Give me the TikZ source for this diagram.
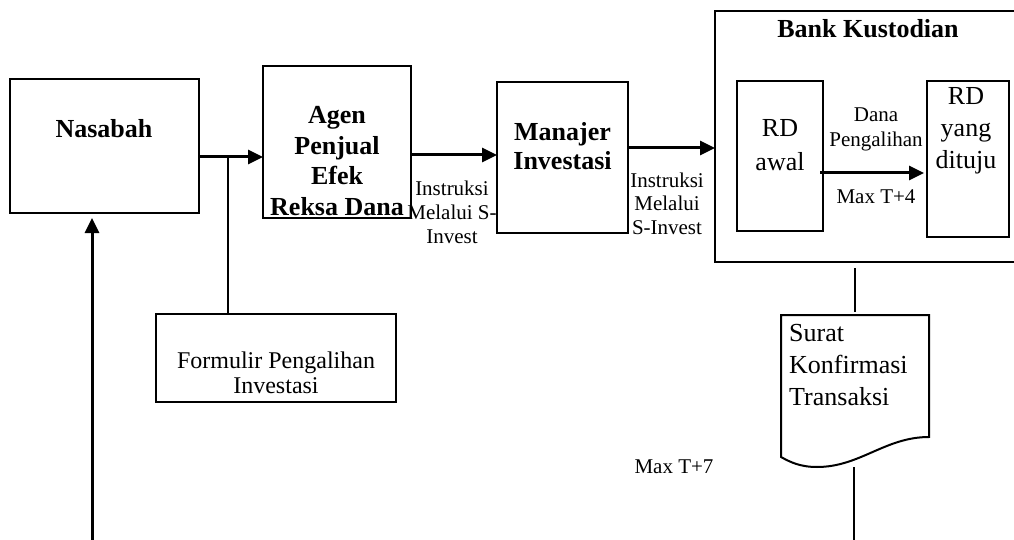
\documentclass[tikz,border=0pt]{standalone}
\usepackage{fontspec}
\setmainfont{Liberation Serif}
\usetikzlibrary{arrows.meta}
\begin{document}
\begin{tikzpicture}[x=1pt,y=-1pt,
  box/.style={draw, line width=2pt, inner sep=0pt, outer sep=0pt},
  ghost/.style={inner sep=0pt, outer sep=0pt},
  arr/.style={line width=3pt, -{Triangle[length=15pt,width=14pt]}},
  conn/.style={line width=2pt},
  thinconn/.style={line width=1.6pt},
  btxt/.style={font=\fontsize{26}{30.7}\selectfont\bfseries, align=center, inner sep=0pt},
  rtxt/.style={font=\fontsize{26}{32}\selectfont, align=center, inner sep=0pt},
  stxt/.style={font=\fontsize{21}{24}\selectfont, align=center, inner sep=0pt}]
\useasboundingbox (0,0) rectangle (1014,540);
\fill[white] (0,0) rectangle (1014,540);
\clip (0,0) rectangle (1014,540);

% boxes
\node[box, minimum width=189pt, minimum height=134pt] (nas) at (104.5,146) {};
\node[box, minimum width=148pt, minimum height=152pt] (agen) at (337,142) {};
\node[box, minimum width=131pt, minimum height=151pt] (man) at (562.5,157.5) {};
\node[box, minimum width=325pt, minimum height=251pt] (bank) at (877.5,136.5) {};
\node[box, minimum width=86pt, minimum height=150pt] (rda) at (780,156) {};
\node[box, minimum width=82pt, minimum height=156pt] (rdy) at (968,159) {};
\node[box, minimum width=240pt, minimum height=88pt] (form) at (276,358) {};
\node[ghost, minimum width=148pt, minimum height=152pt] (doc) at (855,391) {};
\draw[line width=2pt] (doc.north west) -- (doc.north east) -- (929,437)
  .. controls (885,437) and (860,467) .. (817,467)
  .. controls (800,467) and (790,462) .. (781,457) -- cycle;

% texts
\node[btxt] (nasT) at (104,129) {Nasabah};
\node[btxt] (agenT) at (337,161) {Agen\\Penjual\\Efek\\Reksa Dana};
\node[btxt, font=\fontsize{26}{29}\selectfont\bfseries] (manT) at (562.5,146.5) {Manajer\\Investasi};
\node[btxt] (bankT) at (868,29) {Bank Kustodian};
\node[rtxt, font=\fontsize{26}{34}\selectfont] (rdaT) at (780,145) {RD\\awal};
\node[rtxt] (rdyT) at (966,131) {RD\\yang\\dituju};
\node[stxt, font=\fontsize{21}{25}\selectfont] (danaT) at (876,129.5) {Dana\\Pengalihan};
\node[stxt] (max4) at (876,197) {Max T+4};
\node[stxt] (ins1) at (452,212) {Instruksi\\Melalui S-\\Invest};
\node[stxt, font=\fontsize{21}{23.5}\selectfont] (ins2) at (667,203.5) {Instruksi\\Melalui\\S-Invest};
\node[stxt, font=\fontsize{24}{25}\selectfont] (formT) at (276,372.5) {Formulir Pengalihan\\Investasi};
\node[rtxt, align=left, anchor=west] (docT) at (789,365) {Surat\\Konfirmasi\\Transaksi};
\node[stxt] (max7) at (674,467) {Max T+7};

% connectors
\coordinate (j) at (228,157);
\draw[arr] ([yshift=-11pt]nas.east) -- ([yshift=-11pt]nas.east -| agen.west);
\draw[conn] (j) -- (j |- form.north);
\draw[arr] ([yshift=2.5pt]man.west -| agen.east) -- ([yshift=2.5pt]man.west);
\draw[arr] ([yshift=9.5pt]man.east) -- ([yshift=9.5pt]man.east -| bank.west);
\draw[arr] ([xshift=-3pt,yshift=-17pt]rda.east) -- ([xshift=-3pt,yshift=-17pt]rda.east -| rdy.west);
\draw[thinconn] ([yshift=-6pt]doc.north |- bank.south) -- ([yshift=3pt]doc.north);
\coordinate (b1) at (92,540);
\coordinate (b2) at (854,540);
\draw[arr, shorten >=5pt] (b1) -- (b1 |- nas.south);
\draw[thinconn] (b2 |- doc.south) -- (b2);
\end{tikzpicture}
\end{document}
